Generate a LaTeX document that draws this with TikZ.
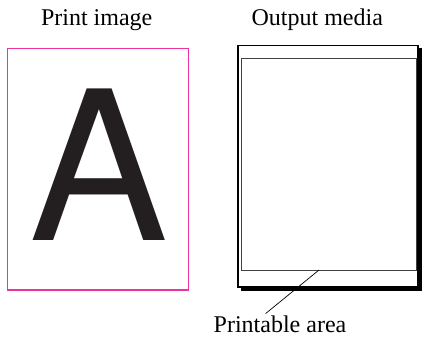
\documentclass[tikz,border=0pt]{standalone}
\usepackage{fontspec}
\setmainfont{Liberation Serif}
\newfontfamily\timesfont{Liberation Serif}
\newfontfamily\heros{TeX Gyre Heros}
\definecolor{pinkline}{RGB}{236,50,160}
\definecolor{glyphgray}{RGB}{35,31,32}
\begin{document}
\begin{tikzpicture}[x=1pt,y=-1pt,
  lbl/.style={font=\timesfont\fontsize{24}{26}\selectfont, inner sep=0pt, anchor=base},
  leader/.style={draw=black, line width=0.7pt}]
\useasboundingbox (0,0) rectangle (422,337);
% Print image
\node[lbl] (pi) at (96.7,26) {Print image};
\draw[pinkline, line width=1.1pt] (7.5,48.5) rectangle (188.5,290);
\node[inner sep=0pt, anchor=base, text=glyphgray, font=\heros\fontsize{208}{208}\selectfont] (A) at (98.7,240.7) {A};
% Output media
\node[lbl] (om) at (317.3,26) {Output media};
\fill[black] (241,287) rectangle (421.5,290.5);
\fill[black] (418,48) rectangle (421.5,290.5);
\draw[black, line width=1.6pt] (238,45.5) rectangle (418,287);
\draw[black!75, line width=0.9pt] (241.5,58.5) rectangle (416,270);
\coordinate (pa-pt) at (319,270);
% Printable area
\node[lbl] (pa) at (280,332) {Printable area};
\coordinate (pa-end) at (265.7,313.5);
\draw[leader] (pa-pt) -- (pa-end);
\end{tikzpicture}
\end{document}
